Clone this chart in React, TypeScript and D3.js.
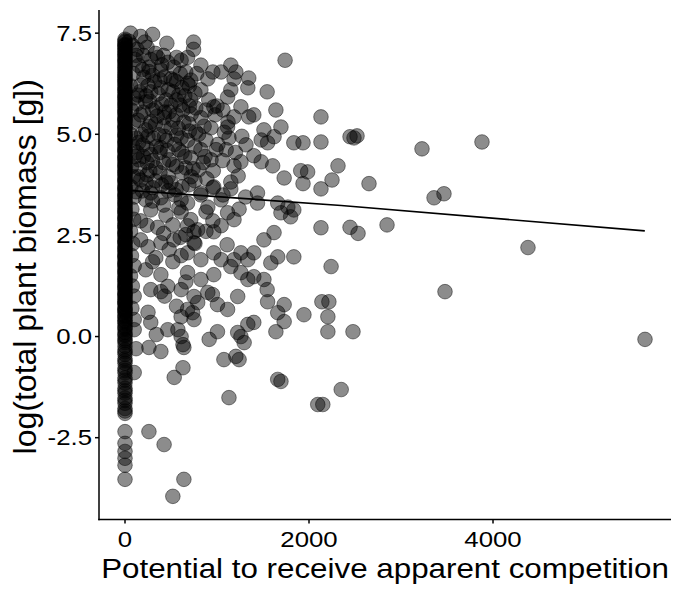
import React from 'react';
import * as d3 from 'd3';

// plants with zero potential (the solid column at x = 0)
const zeroBiomass = [
  7.35, 7.28, 7.22, 7.18, 7.1, 7.05, 6.98, 6.91, 6.86, 6.8, 6.72, 6.67, 6.6, 6.55, 6.47, 6.41,
  6.36, 6.3, 6.22, 6.17, 6.1, 6.04, 5.97, 5.92, 5.85, 5.8, 5.73, 5.66, 5.6, 5.55, 5.48, 5.41,
  5.36, 5.3, 5.22, 5.17, 5.1, 5.04, 4.98, 4.93, 4.86, 4.8, 4.73, 4.67, 4.61, 4.55, 4.48, 4.42,
  4.36, 4.3, 4.23, 4.17, 4.11, 4.05, 3.98, 3.92, 3.86, 3.8, 3.73, 3.67, 3.61, 3.55, 3.48, 3.42,
  3.36, 3.3, 3.23, 3.17, 3.1, 3.05, 2.98, 2.92, 2.86, 2.8, 2.73, 2.67, 2.6, 2.55, 2.48, 2.42,
  2.35, 2.3, 2.23, 2.17, 2.1, 2.04, 1.98, 1.92, 1.85, 1.8, 1.73, 1.67, 1.6, 1.55, 1.48, 1.42,
  1.35, 1.3, 1.23, 1.17, 1.1, 1.04, 0.97, 0.92, 0.85, 0.8, 0.72, 0.66, 0.6, 0.53, 0.46, 0.4,
  0.33, 0.26, 0.18, 0.1, 0.02, -0.06, -0.15, -0.24, -0.33, -0.44, -0.55, -0.66, -0.78, -0.9,
  -1.02, -1.15, -1.28, -1.4, -1.52, -1.65, -1.78, -1.9, -2.35, -2.64, -2.84, -3.01, -3.18, -3.53
];
// more zero-potential plants (second batch of the same column)
const zeroBiomassB = [
  7.31, 7.2, 7.13, 7.02, 6.95, 6.83, 6.76, 6.64, 6.52, 6.44, 6.33, 6.26, 6.14, 6.07, 5.95, 5.88,
  5.77, 5.69, 5.58, 5.51, 5.39, 5.33, 5.2, 5.13, 5.01, 4.95, 4.83, 4.76, 4.64, 4.58, 4.45, 4.39,
  4.27, 4.2, 4.08, 4.01, 3.89, 3.83, 3.7, 3.64, 3.52, 3.45, 3.33, 3.26, 3.14, 3.07, 2.95, 2.89,
  2.76, 2.7, 2.57, 2.51, 2.38, 2.32, 2.2, 2.13, 2.01, 1.95, 1.82, 1.76, 1.64, 1.57, 1.45, 1.38,
  1.26, 1.2, 1.07, 1.01, 0.88, 0.82, 0.69, 0.63, 0.5, 0.37, 0.22, 0.05, -0.1, -0.38, -0.6, -0.84,
  -1.08, -1.34, -1.58, -1.84
];

// [potential, log biomass], potential below 1000, upper half
const nearUpper: [number, number][] = [
  [60, 7.5], [300, 7.47], [215, 7.28], [240, 7.15], [455, 7.25], [745, 7.28], [745, 7.1], [170, 7.42],
  [355, 6.9], [465, 6.78], [530, 6.66], [610, 6.83], [260, 6.66], [205, 6.41], [900, 6.37], [120, 6.95],
  [150, 6.7], [390, 6.59], [660, 6.54], [825, 6.71], [300, 6.46], [500, 6.37], [715, 6.34], [955, 6.54],
  [825, 6.1], [680, 6.26], [530, 6.34], [910, 5.85], [965, 5.68], [170, 6.22], [280, 6.05], [390, 6.15],
  [445, 5.85], [585, 5.97], [715, 5.85], [225, 5.8], [335, 5.65], [500, 5.72], [770, 5.65], [630, 5.6],
  [140, 5.97], [170, 5.48], [280, 5.31], [425, 5.41], [555, 5.48], [695, 5.26], [825, 5.41], [935, 5.16],
  [225, 5.11], [370, 4.99], [500, 5.16], [610, 4.91], [770, 5.06], [880, 4.86], [120, 4.91], [980, 5.48],
  [195, 4.74], [280, 4.5], [390, 4.67], [480, 4.37], [585, 4.62], [715, 4.42], [825, 4.62], [935, 4.37],
  [150, 4.37], [335, 4.17], [660, 4.17], [800, 4.12], [990, 4.62], [240, 4.0], [170, 3.87], [300, 3.68],
  [445, 3.82], [555, 3.63], [695, 3.75], [825, 3.5], [955, 3.68], [390, 3.43], [225, 3.38], [610, 3.38],
  [120, 3.58], [825, 3.55], [965, 3.7], [900, 3.2], [610, 3.08], [280, 3.13], [445, 3.0], [585, 3.18],
  [880, 3.08], [80, 7.2], [110, 6.85], [90, 6.5], [60, 6.2], [100, 5.9], [70, 5.6], [95, 5.3], [60, 5.0],
  [85, 4.7], [110, 4.45], [70, 4.2], [90, 3.95], [65, 3.7], [100, 3.45], [75, 3.15], [330, 7.0],
  [420, 6.95], [560, 6.9], [260, 6.55], [380, 6.35], [470, 6.1], [600, 6.5], [700, 6.2], [560, 5.85],
  [650, 5.95], [300, 5.6], [430, 5.55], [520, 5.35], [640, 5.3], [720, 5.5], [860, 5.2], [330, 5.25],
  [250, 4.95], [450, 4.85], [540, 4.75], [680, 4.85], [760, 4.7], [870, 4.45], [380, 4.55], [240, 4.3],
  [560, 4.2], [650, 4.45], [740, 4.15], [470, 3.95], [330, 3.85], [620, 3.7], [890, 3.9], [760, 3.85],
  [540, 3.5], [420, 3.25], [300, 3.35], [680, 3.3], [960, 4.1]
];

// the darkest cloud just right of the column
const denseCore: [number, number][] = [
  [45, 7.3], [130, 7.1], [200, 6.95], [280, 6.85], [400, 6.72], [190, 6.6], [320, 6.3], [430, 6.42],
  [250, 6.2], [160, 6.05], [360, 6.0], [520, 6.05], [620, 6.15], [760, 6.02], [230, 5.95], [130, 5.75],
  [270, 5.82], [400, 5.75], [600, 5.72], [200, 5.55], [350, 5.45], [480, 5.55], [140, 5.35], [260, 5.2],
  [420, 5.2], [580, 5.15], [700, 5.08], [180, 5.0], [310, 4.9], [430, 4.95], [560, 4.98], [150, 4.8],
  [240, 4.65], [340, 4.7], [460, 4.6], [620, 4.55], [130, 4.55], [200, 4.45], [300, 4.35], [420, 4.3],
  [520, 4.25], [160, 4.15], [270, 4.1], [380, 4.05], [620, 4.05], [140, 3.95], [230, 3.8], [400, 3.75],
  [500, 3.8], [190, 3.6], [280, 3.55], [470, 3.6], [720, 3.95], [850, 4.3], [800, 5.0], [880, 5.6],
  [700, 5.7], [560, 6.3], [780, 6.5], [680, 6.9]
];

// potential below 1000, lower half
const nearLower: [number, number][] = [
  [715, 2.89], [170, 2.86], [355, 2.7], [520, 2.76], [790, 2.64], [955, 2.86], [660, 2.52], [750, 2.59],
  [680, 2.74], [965, 2.59], [170, 2.39], [250, 2.22], [390, 2.32], [530, 2.39], [680, 2.07], [825, 1.9],
  [965, 2.07], [335, 1.95], [610, 2.0], [750, 2.32], [480, 2.15], [225, 1.65], [390, 1.53], [465, 1.24],
  [610, 1.16], [680, 1.58], [825, 1.41], [965, 1.53], [900, 1.09], [280, 1.16], [750, 0.99], [390, 1.11],
  [950, 1.04], [280, 0.35], [465, 0.17], [610, 0.49], [680, 0.67], [735, 0.59], [790, 0.84], [750, 0.42],
  [575, 0.17], [610, 0.0], [640, -0.27], [630, -0.2], [915, -0.07], [260, -0.27], [390, -0.37], [100, 0.42],
  [100, 0.17], [630, -0.77], [535, -1.01], [100, -0.89], [260, -2.35], [425, -2.67], [640, -3.53],
  [520, -3.95], [95, 2.9], [60, 2.6], [85, 2.3], [70, 2.0], [100, 1.75], [60, 1.5], [80, 1.25], [100, 1.0],
  [75, 0.7], [880, 2.6], [600, 2.45], [420, 2.55], [240, 2.75], [760, 2.3], [520, 1.85], [300, 1.85],
  [660, 1.35], [430, 1.0], [560, 0.75], [250, 0.6], [340, 0.05], [120, -0.3]
];

// potential 1000 – 2000
const midPoints: [number, number][] = [
  [1045, 6.54], [1150, 6.71], [1205, 6.54], [1185, 6.37], [1345, 6.39], [1545, 6.05], [1740, 6.83],
  [1335, 6.15], [1150, 6.1], [1115, 5.92], [1640, 5.6], [1400, 5.48], [1345, 5.43], [1185, 5.43],
  [1115, 5.18], [1510, 5.11], [1695, 5.18], [1260, 5.68], [1065, 5.6], [1480, 4.86], [1550, 4.79],
  [1620, 4.94], [1835, 4.79], [1935, 4.79], [1605, 4.22], [1480, 4.32], [1400, 4.47], [1260, 4.32],
  [1185, 4.22], [1100, 4.62], [1315, 4.74], [1130, 4.91], [1230, 3.97], [1150, 3.82], [1910, 4.1],
  [1985, 4.07], [1935, 3.78], [1730, 3.92], [1440, 3.55], [1440, 3.3], [1660, 3.3], [1770, 3.2],
  [1835, 3.13], [1800, 2.96], [1695, 3.06], [1065, 3.5], [1835, 1.97], [1660, 1.97], [1585, 1.82],
  [1620, 2.57], [1510, 2.39], [1400, 2.07], [1335, 1.9], [1260, 2.07], [1185, 1.9], [1150, 1.73],
  [1260, 1.58], [1335, 1.41], [1400, 1.48], [1510, 1.41], [1110, 2.27], [1045, 1.9], [1045, 3.38],
  [1115, 3.06], [1185, 2.89], [1045, 2.74], [1550, 0.86], [1730, 0.79], [1660, 0.59], [1730, 0.37],
  [1640, 0.12], [1945, 0.54], [1115, 0.67], [1225, 0.99], [1005, 0.79], [1225, 0.1], [1260, 0.0],
  [1335, 0.3], [1400, 0.35], [1295, -0.15], [1205, -0.49], [1240, -0.57], [1075, -0.57], [1545, 1.16],
  [1660, -1.06], [1695, -1.11], [1130, -1.51], [1005, 0.12], [1010, 4.75], [1080, 5.05], [1000, 5.7],
  [1120, 5.3], [1060, 4.35], [1200, 4.55], [1270, 4.95], [1150, 3.65], [1310, 3.45], [1240, 3.15]
];

// potential above 2000
const farPoints: [number, number][] = [
  [2130, 5.43], [2130, 4.81], [2446, 4.94], [2489, 4.91], [2522, 4.96], [3228, 4.64], [3880, 4.81],
  [2315, 4.22], [2250, 3.87], [2652, 3.78], [2130, 3.65], [3359, 3.43], [3467, 3.53], [2130, 2.69],
  [2446, 2.7], [2533, 2.55], [2848, 2.76], [2240, 1.73], [4380, 2.2], [3478, 1.11], [2140, 0.86],
  [2216, 0.86], [2205, 0.49], [2205, 0.12], [2478, 0.12], [5652, -0.07], [2350, -1.31],
  [2095, -1.68], [2150, -1.68]
];

// fitted model line
const fitPotential = [0, 2350, 5650];
const fitBiomass = [3.62, 3.24, 2.61];

const xTicks = [0, 2000, 4000];
const yTicks = [-2.5, 0, 2.5, 5, 7.5];

const font = "'Liberation Sans', Arial, sans-serif";

export default function App() {
  const width = 674, height = 592;
  const left = 99, right = 671, top = 10, bottom = 519.5;

  const points: [number, number][] = [
    ...zeroBiomass.map(v => [0, v] as [number, number]),
    ...zeroBiomassB.map(v => [0, v] as [number, number]),
    ...nearUpper, ...denseCore, ...nearLower, ...midPoints, ...farPoints
  ];

  // ggplot style 5% expansion
  const expand = (e: [number, number]) => {
    const r = e[1] - e[0];
    return [e[0] - r * 0.05, e[1] + r * 0.05];
  };
  const x = d3.scaleLinear()
    .domain(expand(d3.extent(points, d => d[0]) as [number, number]))
    .range([left, right]);
  const y = d3.scaleLinear()
    .domain(expand(d3.extent(points, d => d[1]) as [number, number]))
    .range([bottom, top]);

  const fitLine = d3.line<number>()
    .x((d, i) => x(fitPotential[i]))
    .y(d => y(d));

  return (
    <div style={{ position: 'absolute', left: 0, top: 0 }}>
      <svg width={width} height={height} style={{ display: 'block', background: '#fff' }}>
        <g>
          {points.map((d, i) => (
            <circle key={i} cx={x(d[0])} cy={y(d[1])} r={7.3}
              fill="#000" fillOpacity={0.45} stroke="#000" strokeOpacity={0.45} strokeWidth={1} />
          ))}
        </g>
        <path d={fitLine(fitBiomass) || ''} fill="none" stroke="#000" strokeWidth={1.7} />

        {/* axes */}
        <line x1={left} x2={left} y1={top} y2={bottom + 0.75} stroke="#000" strokeWidth={1.5} />
        <line x1={left - 0.75} x2={right} y1={bottom} y2={bottom} stroke="#000" strokeWidth={1.5} />

        {yTicks.map(t => (
          <g key={t}>
            <line x1={left - 4} x2={left} y1={y(t)} y2={y(t)} stroke="#000" strokeWidth={1.5} />
            <text transform={`translate(92,${y(t)}) scale(1.2,1)`} dy="0.35em" textAnchor="end"
              fontFamily={font} fontSize={21.5} fill="#000">{t.toFixed(1)}</text>
          </g>
        ))}
        {xTicks.map(t => (
          <g key={t}>
            <line x1={x(t)} x2={x(t)} y1={bottom} y2={bottom + 4} stroke="#000" strokeWidth={1.5} />
            <text transform={`translate(${x(t)},547) scale(1.2,1)`} textAnchor="middle"
              fontFamily={font} fontSize={21.5} fill="#000">{t}</text>
          </g>
        ))}

        <text transform={`translate(${(left + right) / 2},578) scale(1.1,1)`} textAnchor="middle"
          fontFamily={font} fontSize={28.5} fill="#000">Potential to receive apparent competition</text>
        <text transform={`translate(36,${(top + bottom) / 2 + 2}) rotate(-90)`} textAnchor="middle"
          fontFamily={font} fontSize={32} fill="#000">log(total plant biomass [g])</text>
      </svg>
    </div>
  );
}
